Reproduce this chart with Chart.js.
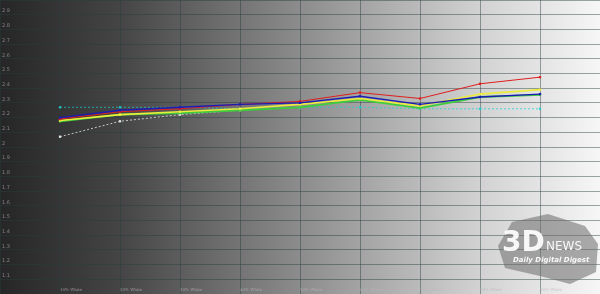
<!DOCTYPE html>
<html>
<head>
<meta charset="utf-8">
<script src="https://cdn.jsdelivr.net/npm/chart.js@4/dist/chart.umd.min.js"></script>
<style>
  html, body { margin: 0; padding: 0; background: #222; }
  #wrap { width: 600px; height: 294px; }
</style>
</head>
<body>
<div id="wrap"><canvas id="gammaChart" width="600" height="294"></canvas></div>
<script>
// brightness levels (% white) and gamma values
var levels = [10, 20, 30, 40, 50, 60, 70, 80, 90];
var levelLabels = ["10% White", "20% White", "30% White", "40% White", "50% White", "60% White", "70% White", "80% White", "90% White"];
var gammaBlue   = [2.20, 2.25, 2.27, 2.29, 2.30, 2.345, 2.29, 2.34, 2.36];
var gammaRed    = [2.19, 2.24, 2.26, 2.29, 2.31, 2.37, 2.33, 2.43, 2.475];
var gammaYellow = [2.18, 2.22, 2.24, 2.26, 2.29, 2.33, 2.28, 2.36, 2.39];
var gammaGreen  = [2.175, 2.22, 2.23, 2.25, 2.27, 2.32, 2.265, 2.34, 2.355];
var gammaCyan   = [2.27, 2.27, 2.27, 2.26, 2.27, 2.27, 2.26, 2.26, 2.26];
var gammaWhite  = [2.07, 2.175, 2.22, 2.25, 2.27, 2.32, 2.265, 2.34, 2.355];
var yTicks = [1.1, 1.2, 1.3, 1.4, 1.5, 1.6, 1.7, 1.8, 1.9, 2, 2.1, 2.2, 2.3, 2.4, 2.5, 2.6, 2.7, 2.8, 2.9];

function toPoints(values) {
  var pts = [];
  for (var i = 0; i < values.length; i++) {
    pts.push({ x: levels[i], y: values[i] });
  }
  return pts;
}

function makeSet(label, values, color, width, dash) {
  return {
    label: label,
    data: toPoints(values),
    borderColor: color,
    backgroundColor: color,
    borderWidth: width,
    borderDash: dash || [],
    pointStyle: "rect",
    pointRadius: 1.6,
    pointBorderWidth: 0,
    tension: 0
  };
}

// grey gradient behind the whole picture
var backdrop = {
  id: "backdrop",
  beforeDraw: function(chart) {
    var ctx = chart.ctx;
    var g = ctx.createLinearGradient(0, 0, chart.width, 0);
    g.addColorStop(0, "#262626");
    g.addColorStop(0.2, "#454545");
    g.addColorStop(0.5, "#8c8c8c");
    g.addColorStop(0.8, "#d2d2d2");
    g.addColorStop(1, "#f6f6f6");
    ctx.save();
    ctx.fillStyle = g;
    ctx.fillRect(0, 0, chart.width, chart.height);
    ctx.restore();
  }
};

// tick labels drawn inside the plot area
var innerLabels = {
  id: "innerLabels",
  afterDatasetsDraw: function(chart) {
    var ctx = chart.ctx;
    var xs = chart.scales.x, ys = chart.scales.y;
    ctx.save();
    ctx.font = "5px 'DejaVu Sans'";
    ctx.fillStyle = "rgba(160,160,160,0.75)";
    ctx.textAlign = "left";
    ctx.textBaseline = "middle";
    yTicks.forEach(function(v) {
      ctx.fillText(String(v), 2, ys.getPixelForValue(v) - 3.5);
    });
    ctx.font = "4px 'DejaVu Serif'";
    ctx.fillStyle = "rgba(185,185,185,0.7)";
    levels.forEach(function(v, i) {
      ctx.fillText(levelLabels[i], xs.getPixelForValue(v), 290);
    });
    ctx.restore();
  }
};

// site watermark, bottom right
var watermark = {
  id: "watermark",
  afterDraw: function(chart) {
    var ctx = chart.ctx;
    ctx.save();
    ctx.fillStyle = "rgba(105,105,105,0.55)";
    ctx.beginPath();
    ctx.moveTo(512, 222);
    ctx.lineTo(548, 214);
    ctx.lineTo(585, 226);
    ctx.lineTo(598, 244);
    ctx.lineTo(596, 272);
    ctx.lineTo(570, 284);
    ctx.lineTo(540, 276);
    ctx.lineTo(505, 268);
    ctx.lineTo(498, 246);
    ctx.closePath();
    ctx.fill();
    ctx.fillStyle = "rgba(255,255,255,0.92)";
    ctx.textBaseline = "alphabetic";
    ctx.font = "bold 28px 'DejaVu Sans'";
    ctx.fillText("3D", 502, 251);
    ctx.font = "12px 'DejaVu Sans'";
    ctx.fillText("NEWS", 546, 250);
    ctx.font = "italic bold 7px 'DejaVu Sans'";
    ctx.fillText("Daily Digital Digest", 513, 262);
    ctx.restore();
  }
};

var ctx = document.getElementById("gammaChart");
var chart = new Chart(ctx, {
  type: "line",
  data: {
    datasets: [
      makeSet("Blue", gammaBlue, "#1c1cb4", 1.4),
      makeSet("Red", gammaRed, "#e01e1e", 1),
      makeSet("Yellow", gammaYellow, "#ecec3c", 1.6),
      makeSet("Green", gammaGreen, "#3ccc3c", 1.8),
      makeSet("Cyan", gammaCyan, "rgba(30,205,205,0.9)", 0.8, [2, 2]),
      makeSet("White", gammaWhite, "#e6e6e6", 0.8, [2, 2])
    ]
  },
  options: {
    responsive: false,
    animation: false,
    layout: { padding: 0, autoPadding: false },
    plugins: {
      legend: { display: false },
      tooltip: { enabled: false }
    },
    scales: {
      x: {
        type: "linear",
        min: 0,
        max: 100,
        border: { display: false },
        grid: { color: "rgba(40,62,62,0.45)", lineWidth: 1, drawTicks: false },
        ticks: { display: false, stepSize: 10 }
      },
      y: {
        min: 1,
        max: 3,
        border: { display: false },
        grid: { color: "rgba(40,62,62,0.45)", lineWidth: 1, drawTicks: false },
        ticks: { display: false, stepSize: 0.1 }
      }
    }
  },
  plugins: [backdrop, innerLabels, watermark]
});
</script>
</body>
</html>
